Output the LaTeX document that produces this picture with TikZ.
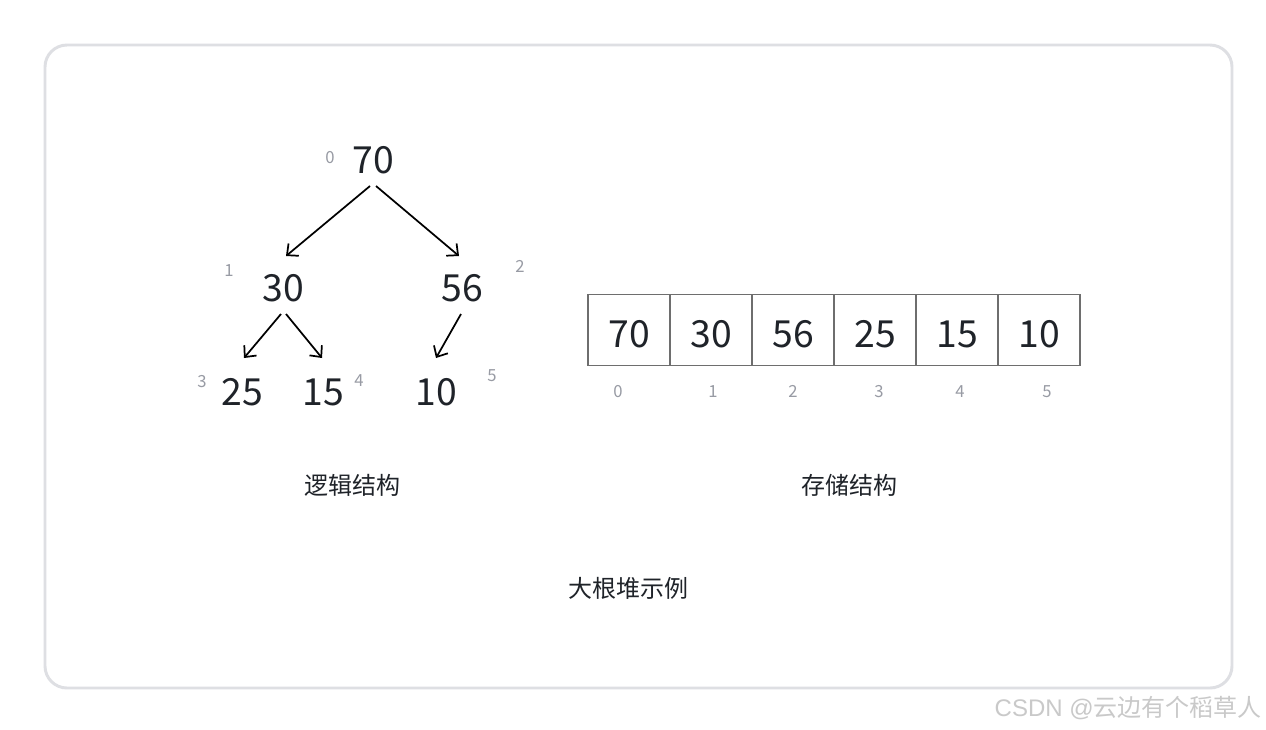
\documentclass[tikz,border=0pt]{standalone}
\usepackage{fontspec}
\setmainfont{Noto Sans CJK SC}
\newfontfamily\latinwm{Liberation Sans}
\usetikzlibrary{arrows.meta,calc}
\definecolor{txt}{HTML}{1F2329}
\definecolor{idx}{HTML}{989BA4}
\definecolor{framec}{HTML}{DEDFE3}
\definecolor{cellc}{HTML}{6E6E6E}
\definecolor{wmc}{HTML}{C9C9C9}
\begin{document}
\begin{tikzpicture}[x=0.75pt,y=-0.75pt,
  num/.style={inner sep=0,anchor=base,text=txt,font=\fontsize{28}{28}\selectfont},
  idxlbl/.style={inner sep=0,anchor=base,text=idx,font=\fontsize{12.5}{12.5}\selectfont},
  captxt/.style={inner sep=0,text=txt,font=\fontsize{18}{18}\selectfont},
  arr/.style={draw=black,line width=1.3pt,-{Straight Barb[length=6.5pt,width=12pt]}},
  cellbox/.style={draw=cellc,line width=1pt,minimum width=61.5pt,minimum height=53.25pt,inner sep=0,
     text height=25.5pt,text depth=0pt,text=txt,font=\fontsize{28}{28}\selectfont}]
\useasboundingbox (0,0) rectangle (1266,729);
\fill[white] (0,0) rectangle (1266,729);
\draw[framec,line width=2.2pt,rounded corners=16.5pt] (45,45) rectangle (1232,688);

% tree
\node[num] (n70) at (373,173) {70};
\node[num] (n30) at (283,301) {30};
\node[num] (n56) at (462,301) {56};
\node[num] (n25) at (242,405) {25};
\node[num] (n15) at (323,405) {15};
\node[num] (n10) at (436,405) {10};

\node[idxlbl] (t0) at (330,163) {0};
\node[idxlbl] (t1) at (229,276) {1};
\node[idxlbl] (t2) at (520,272) {2};
\node[idxlbl] (t3) at (202,387) {3};
\node[idxlbl] (t4) at (359,386) {4};
\node[idxlbl] (t5) at (492,381) {5};

\draw[arr] ($(n70.base)+(-3,13)$) -- ($(n30.base)+(3,-45)$);
\draw[arr] ($(n70.base)+(3,13)$) -- ($(n56.base)+(-3,-45)$);
\draw[arr] ($(n30.base)+(-2,13)$) -- ($(n25.base)+(2,-47)$);
\draw[arr] ($(n30.base)+(3,13)$) -- ($(n15.base)+(-1,-47)$);
\draw[arr] ($(n56.base)+(-1,13)$) -- ($(n10.base)+(0,-47)$);

% array
\node[cellbox] (a0) at (629,330) {70};
\node[cellbox] (a1) at (711,330) {30};
\node[cellbox] (a2) at (793,330) {56};
\node[cellbox] (a3) at (875,330) {25};
\node[cellbox] (a4) at (957,330) {15};
\node[cellbox] (a5) at (1039,330) {10};

\node[idxlbl] (i0) at (618,397) {0};
\node[idxlbl] (i1) at (713,397) {1};
\node[idxlbl] (i2) at (793,397) {2};
\node[idxlbl] (i3) at (879,397) {3};
\node[idxlbl] (i4) at (960,397) {4};
\node[idxlbl] (i5) at (1047,397) {5};

% captions
\node[captxt] (c1) at (352,485) {逻辑结构};
\node[captxt] (c2) at (849,485) {存储结构};
\node[captxt] (c3) at (628,588) {大根堆示例};

% watermark
\node[inner sep=0,text=wmc,font=\fontsize{18}{18}\selectfont,anchor=east] (wm) at (1262,708) {{\latinwm CSDN @}云边有个稻草人};
\end{tikzpicture}
\end{document}
